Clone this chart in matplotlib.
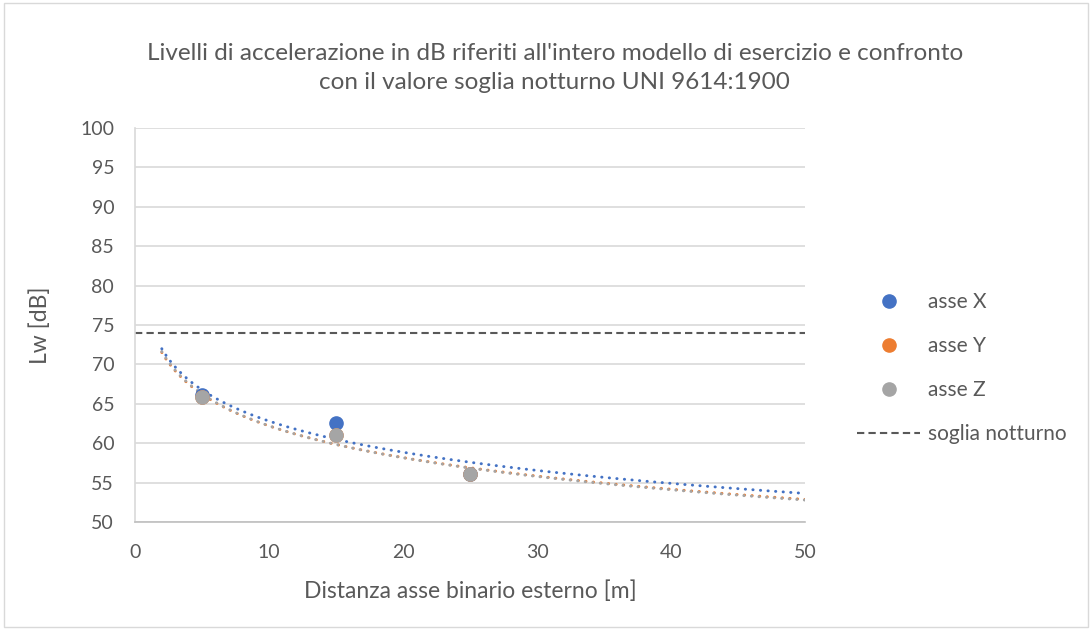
import numpy as np
import matplotlib
matplotlib.use("Agg")
import matplotlib.pyplot as plt

# distances [m] and measured levels [dB]
distanza = [5, 15, 25]
asse_x = [66.1, 62.6, 56.15]
asse_y = [65.85, 61.0, 56.1]
asse_z = [65.9, 61.0, 56.05]
soglia = 74
serie = ["asse X", "asse Y", "asse Z"]
colori = ["#4472C4", "#ED7D31", "#A5A5A5"]

plt.rcParams['font.family'] = ['Lato', 'DejaVu Sans']
testo = "#595959"

fig = plt.figure(figsize=(10.92, 6.3), dpi=100)
ax = fig.add_axes([0.1236, 0.1714, 0.6136, 0.6254])

# logarithmic trendlines from 2 to 50 m (Excel style)
xt = np.linspace(2, 50, 300)
for vals, col in zip([asse_y, asse_z, asse_x], [colori[1], colori[2], colori[0]]):
    a, b = np.polyfit(np.log(distanza), vals, 1)
    ax.plot(xt, a * np.log(xt) + b, color=col, lw=2.1,
            linestyle=(0, (0.1, 2.5)), dash_capstyle='round', zorder=2)

for vals, nome, col in zip([asse_x, asse_y, asse_z], serie, colori):
    ax.plot(distanza, vals, 'o', color=col, markersize=9.5, label=nome,
            linestyle='none', zorder=3)

ax.axhline(soglia, color="#595959", lw=1.5, linestyle=(0, (3.5, 2)),
           label="soglia notturno", zorder=2)

ax.set_xlim(0, 50)
ax.set_ylim(50, 100)
ax.set_xticks(range(0, 51, 10))
ax.set_yticks(range(50, 101, 5))
ax.grid(axis='y', color="#D9D9D9", lw=1.2)
ax.set_axisbelow(True)
for s in ['top', 'right']:
    ax.spines[s].set_visible(False)
ax.spines['left'].set_color("#D9D9D9")
ax.spines['bottom'].set_color("#BFBFBF")
ax.spines['left'].set_linewidth(1.2)
ax.spines['bottom'].set_linewidth(1.2)
ax.tick_params(length=0, labelsize=14, colors=testo)
ax.tick_params(axis='y', pad=15)
ax.tick_params(axis='x', pad=16)

ax.set_xlabel("Distanza asse binario esterno [m]", fontsize=16.5, color=testo, labelpad=14)
ax.set_ylabel("Lw [dB]", fontsize=16.5, color=testo, labelpad=21)

fig.text(0.508, 0.892, "Livelli di accelerazione in dB riferiti all'intero modello di esercizio e confronto\ncon il valore soglia notturno UNI 9614:1900",
         ha='center', va='center', fontsize=17.5, color=testo, linespacing=1.45)

leg = ax.legend(loc='center left', bbox_to_anchor=(1.05, 0.39), frameon=False,
                fontsize=15, labelcolor=testo, handlelength=3.0,
                labelspacing=1.15, handletextpad=0.4)

# outer chart border
fig.patches.append(plt.Rectangle((0.004, 0.004), 0.992, 0.992, transform=fig.transFigure,
                                 fill=False, edgecolor="#D9D9D9", lw=1))

fig.savefig("out.png", dpi=100)
